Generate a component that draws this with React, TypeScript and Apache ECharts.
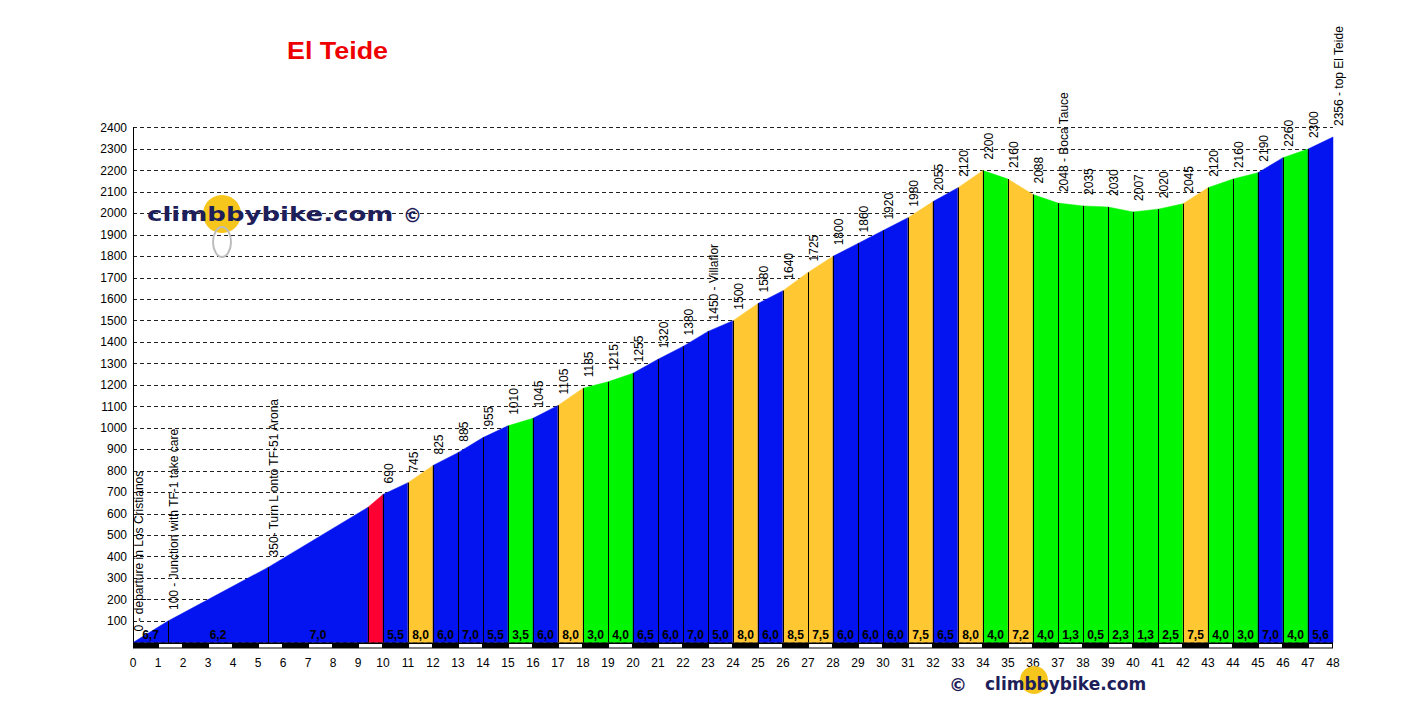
import React, { useEffect, useRef } from "react";
import * as echarts from "echarts";

// Profile points: distance (km) and elevation (m)
const kms = [0, 1.4, 5.4, 9.4, 10, 11, 12, 13, 14, 15, 16, 17, 18, 19, 20, 21, 22, 23, 24, 25, 26, 27, 28, 29, 30, 31, 32, 33, 34, 35, 36, 37, 38, 39, 40, 41, 42, 43, 44, 45, 46, 47, 48];
const elevations = [0, 100, 350, 630, 690, 745, 825, 885, 955, 1010, 1045, 1105, 1185, 1215, 1255, 1320, 1380, 1450, 1500, 1580, 1640, 1725, 1800, 1860, 1920, 1980, 2055, 2120, 2200, 2160, 2088, 2048, 2035, 2030, 2007, 2020, 2045, 2120, 2160, 2190, 2260, 2300, 2356];
const pointLabels = [
  "0 - departure in Los Cristianos", "100 - Junction with TF-1 take care", "350- Turn L onto TF-51 Arona", "",
  "690", "745", "825", "885", "955", "1010", "1045", "1105", "1185", "1215", "1255", "1320", "1380",
  "1450 - Villaflor", "1500", "1580", "1640", "1725", "1800", "1860", "1920", "1980", "2055", "2120",
  "2200", "2160", "2088", "2048 - Boca Tauce", "2035", "2030", "2007", "2020", "2045", "2120", "2160",
  "2190", "2260", "2300", "2356 - top El Teide",
];
// Gradient (%) of each segment between consecutive points
const grades = [6.7, 6.2, 7.0, 10.0, 5.5, 8.0, 6.0, 7.0, 5.5, 3.5, 6.0, 8.0, 3.0, 4.0, 6.5, 6.0, 7.0, 5.0, 8.0, 6.0, 8.5, 7.5, 6.0, 6.0, 6.0, 7.5, 6.5, 8.0, 4.0, 7.2, 4.0, 1.3, 0.5, 2.3, 1.3, 2.5, 7.5, 4.0, 3.0, 7.0, 4.0, 5.6];
const kmTicks = [0, 1, 2, 3, 4, 5, 6, 7, 8, 9, 10, 11, 12, 13, 14, 15, 16, 17, 18, 19, 20, 21, 22, 23, 24, 25, 26, 27, 28, 29, 30, 31, 32, 33, 34, 35, 36, 37, 38, 39, 40, 41, 42, 43, 44, 45, 46, 47];

const FONT = "'Liberation Sans', Arial, sans-serif";
const LOGO_FONT = "'DejaVu Sans', sans-serif";

function gradeColor(g: number) {
  if (g > 9) return "#ff0033";
  if (g > 7) return "#ffc832";
  if (g >= 5) return "#0414f0";
  return "#00f500";
}

export default function App() {
  const ref = useRef<HTMLDivElement>(null);
  useEffect(() => {
    if (!ref.current) return;
    const chart = echarts.init(ref.current, null, { renderer: "svg" });

    const segData = grades.map((g, i) => [kms[i], kms[i + 1], elevations[i], elevations[i + 1], g]);
    const pointData = kms.map((k, i) => [k, elevations[i], i]);

    const option: any = {
      animation: false,
      backgroundColor: "#ffffff",
      grid: { left: 133, right: 95, top: 127.6, bottom: 60.5, containLabel: false },
      xAxis: {
        type: "value",
        min: 0,
        max: 48,
        interval: 1,
        axisLine: { show: false },
        axisTick: { show: false },
        splitLine: { show: false },
        axisLabel: { color: "#000", fontSize: 12, fontFamily: FONT, margin: 14 },
      },
      yAxis: {
        type: "value",
        min: 0,
        max: 2400,
        interval: 100,
        axisLine: { show: true, lineStyle: { color: "#000", width: 1 } },
        axisTick: { show: false },
        axisLabel: {
          color: "#000",
          fontSize: 12,
          fontFamily: FONT,
          margin: 6,
          formatter: (v: number) => (v === 0 ? "" : String(v)),
        },
        splitLine: { show: true, lineStyle: { color: "#222", width: 1, type: [4, 3] } },
      },
      series: [
        {
          type: "custom",
          data: segData,
          encode: { x: [0, 1], y: [2, 3] },
          renderItem: (params: any, api: any) => {
            const x0 = api.value(0), x1 = api.value(1), y0 = api.value(2), y1 = api.value(3), g = api.value(4);
            const b0 = api.coord([x0, 0]);
            const b1 = api.coord([x1, 0]);
            const t0 = api.coord([x0, y0]);
            const t1 = api.coord([x1, y1]);
            const children: any[] = [
              {
                type: "polygon",
                shape: { points: [b0, t0, t1, b1] },
                style: { fill: gradeColor(g), stroke: gradeColor(g), lineWidth: 0.5 },
              },
            ];
            if (x0 > 0) {
              children.push({
                type: "line",
                shape: { x1: Math.round(b0[0]) + 0.5, y1: b0[1], x2: Math.round(b0[0]) + 0.5, y2: t0[1] },
                style: { stroke: "#000", lineWidth: 1 },
              });
            }
            if (b1[0] - b0[0] > 20) {
              children.push({
                type: "text",
                style: {
                  text: g.toFixed(1).replace(".", ","),
                  x: (b0[0] + b1[0]) / 2,
                  y: b0[1] - 8,
                  align: "center",
                  verticalAlign: "middle",
                  fontSize: 12,
                  fontWeight: "bold",
                  fontFamily: FONT,
                  fill: "#000",
                },
              });
            }
            return { type: "group", children };
          },
          z: 2,
        },
        {
          type: "custom",
          data: pointData,
          encode: { x: 0, y: 1 },
          renderItem: (params: any, api: any) => {
            const i = api.value(2);
            const p = api.coord([api.value(0), api.value(1)]);
            const txt = pointLabels[i];
            if (!txt) return { type: "group", children: [] };
            return {
              type: "text",
              x: p[0] + 6,
              y: p[1] - 11,
              rotation: Math.PI / 2,
              style: {
                text: txt,
                x: 0,
                y: 0,
                align: "left",
                verticalAlign: "middle",
                fontSize: 12,
                fontFamily: FONT,
                fill: "#000",
              },
            };
          },
          z: 3,
        },
        {
          type: "custom",
          data: kmTicks.map((k) => [k, 0]),
          encode: { x: 0, y: 1 },
          renderItem: (params: any, api: any) => {
            const k = api.value(0);
            const a = api.coord([k, 0]);
            const b = api.coord([k + 1, 0]);
            const children: any[] = [
              { type: "rect", shape: { x: a[0], y: a[1], width: b[0] - a[0], height: 6 }, style: { fill: "#000" } },
            ];
            if (k % 2 === 1) {
              children.push({
                type: "rect",
                shape: { x: a[0] + 1, y: a[1] + 1.5, width: b[0] - a[0] - 2, height: 3.5 },
                style: { fill: "#fff" },
              });
            }
            return { type: "group", children };
          },
          z: 4,
        },
      ],
      graphic: [
        {
          type: "text",
          x: 287,
          y: 51,
          scaleX: 1.12,
          style: { text: "El Teide", fontSize: 24, fontWeight: "bold", fontFamily: FONT, fill: "#ee0000", verticalAlign: "middle" },
          z: 10,
        },
        // top watermark
        { type: "circle", shape: { cx: 222, cy: 214, r: 19 }, style: { fill: "#f6c61c" }, z: 5 },
        { type: "ellipse", shape: { cx: 222, cy: 242, rx: 9, ry: 15 }, style: { fill: "none", stroke: "#bdbdbd", lineWidth: 2 }, z: 5 },
        {
          type: "text",
          x: 147,
          y: 214,
          scaleX: 1.3,
          style: { text: "climbbybike.com", fontSize: 20, fontWeight: "bold", fontFamily: LOGO_FONT, fill: "#1e1e5a", verticalAlign: "middle" },
          z: 6,
        },
        {
          type: "text",
          x: 403,
          y: 215,
          style: { text: "©", fontSize: 19, fontWeight: "bold", fontFamily: LOGO_FONT, fill: "#1e1e5a", verticalAlign: "middle" },
          z: 6,
        },
        // bottom watermark
        { type: "circle", shape: { cx: 1034, cy: 680, r: 14 }, style: { fill: "#f6c61c" }, z: 5 },
        {
          type: "text",
          x: 949,
          y: 684,
          style: { text: "©", fontSize: 18, fontWeight: "bold", fontFamily: LOGO_FONT, fill: "#1e1e5a", verticalAlign: "middle" },
          z: 6,
        },
        {
          type: "text",
          x: 985,
          y: 684,
          style: { text: "climbbybike.com", fontSize: 17, fontWeight: "bold", fontFamily: LOGO_FONT, fill: "#1e1e5a", verticalAlign: "middle" },
          z: 6,
        },
      ],
    };
    chart.setOption(option);
    return () => chart.dispose();
  }, []);
  return <div ref={ref} style={{ position: "absolute", left: 0, top: 0, width: 1428, height: 703 }} />;
}
